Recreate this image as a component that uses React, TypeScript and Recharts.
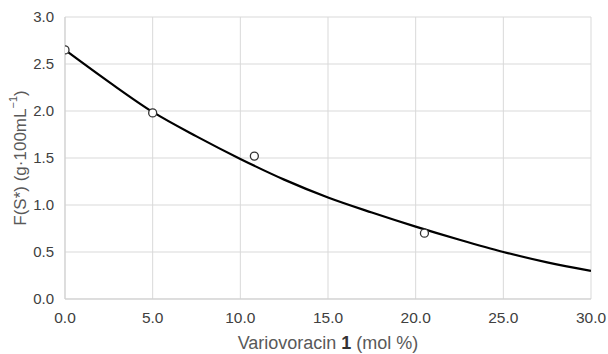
import React from "react";
import { ComposedChart, Line, Scatter, XAxis, YAxis, CartesianGrid } from "recharts";

const curveX = [0, 2.5, 5, 7.5, 10, 12.5, 15, 17.5, 20, 22.5, 25, 27.5, 30];
const curveY = [2.65, 2.31, 1.99, 1.73, 1.49, 1.27, 1.08, 0.92, 0.77, 0.63, 0.5, 0.39, 0.3];
const pointX = [0, 5.0, 10.8, 20.5];
const pointY = [2.65, 1.98, 1.52, 0.7];
const xTicks = [0, 5, 10, 15, 20, 25, 30];
const yTicks = [0, 0.5, 1.0, 1.5, 2.0, 2.5, 3.0];

const curveData = curveX.map((x, i) => ({ x, y: curveY[i] }));
const pointData = pointX.map((x, i) => ({ x, y: pointY[i] }));

const FONT = "Liberation Sans, Arial, sans-serif";

const YLabel = (props: any) => {
  const vb = props.viewBox || {};
  const cx = 20;
  const cy = vb.y + vb.height / 2;
  return (
    <text
      x={cx}
      y={cy}
      transform={`rotate(-90, ${cx}, ${cy})`}
      textAnchor="middle"
      dominantBaseline="central"
      fill="#595959"
      fontSize={17}
      fontFamily={FONT}
    >
      F(S*) (g·100mL
      <tspan dy={-7} fontSize={11}>−1</tspan>
      <tspan dy={7}>)</tspan>
    </text>
  );
};

const XLabel = (props: any) => {
  const vb = props.viewBox || {};
  const cx = vb.x + vb.width / 2;
  return (
    <text
      x={cx}
      y={349}
      textAnchor="middle"
      fill="#595959"
      fontSize={18}
      fontFamily={FONT}
    >
      Variovoracin <tspan fontWeight="bold" fill="#333">1</tspan> (mol %)
    </text>
  );
};

export default function App() {
  return (
    <div style={{ position: "fixed", left: 0, top: 0, width: 608, height: 354, background: "#fff" }}>
      <ComposedChart
        width={608}
        height={354}
        margin={{ top: 17, right: 17, bottom: 0, left: 8 }}
        style={{ fontFamily: FONT }}
      >
        <CartesianGrid stroke="#d9d9d9" strokeWidth={1} />
        <XAxis
          type="number"
          dataKey="x"
          domain={[0, 30]}
          ticks={xTicks}
          tickFormatter={(v: number) => v.toFixed(1)}
          tick={{ fill: "#404040", fontSize: 15.5, fontFamily: FONT }}
          tickLine={false}
          tickSize={0}
          tickMargin={13}
          axisLine={{ stroke: "#cfcfcf" }}
          height={55}
          allowDataOverflow
          label={<XLabel />}
        />
        <YAxis
          type="number"
          dataKey="y"
          domain={[0, 3]}
          ticks={yTicks}
          tickFormatter={(v: number) => v.toFixed(1)}
          tick={{ fill: "#404040", fontSize: 15, fontFamily: FONT }}
          tickLine={false}
          tickSize={0}
          tickMargin={11}
          axisLine={{ stroke: "#cfcfcf" }}
          width={57}
          allowDataOverflow
          label={<YLabel />}
        />
        <Line
          data={curveData}
          dataKey="y"
          type="monotone"
          stroke="#000"
          strokeWidth={2.2}
          dot={false}
          activeDot={false}
          isAnimationActive={false}
        />
        <Scatter
          data={pointData}
          dataKey="y"
          fill="#fff"
          stroke="#333"
          strokeWidth={1.3}
          shape={(p: any) => (
            <circle cx={p.cx} cy={p.cy} r={4} fill="#fff" stroke="#333" strokeWidth={1.3} />
          )}
          isAnimationActive={false}
        />
      </ComposedChart>
    </div>
  );
}
